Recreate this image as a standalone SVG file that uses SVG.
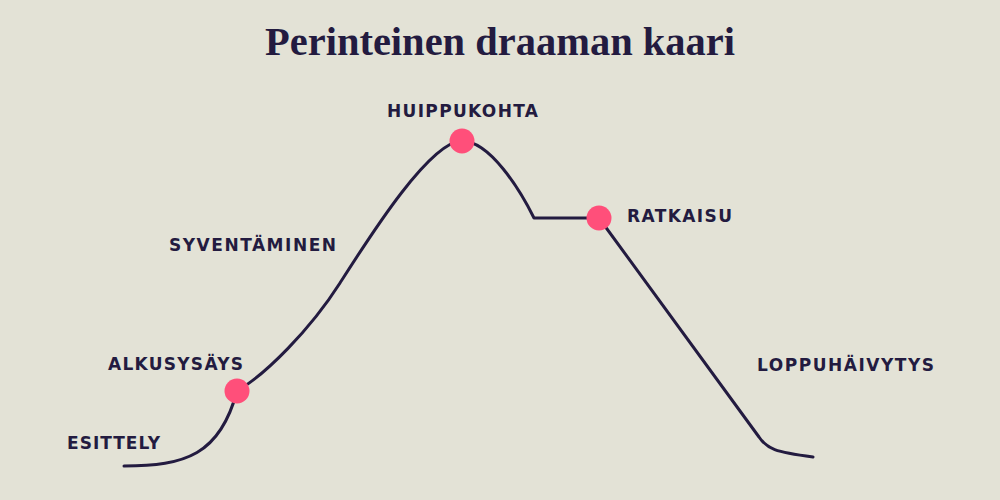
<svg xmlns="http://www.w3.org/2000/svg" width="1000" height="500" viewBox="0 0 1000 500">
<style>
.bg{fill:#e3e2d6}
.title{font-family:"Liberation Serif","DejaVu Serif",serif;font-weight:bold;font-size:40px;fill:#231b40}
.lbl{font-family:"DejaVu Sans","Open Sans",sans-serif;font-weight:bold;font-size:17px;fill:#231b40}
.dot{fill:#ff4f7a}
.arc{fill:none;stroke:#231b40;stroke-width:3;stroke-linecap:round;stroke-linejoin:round}
</style>
<rect class="bg" x="0" y="0" width="1000" height="500"/>
<text class="title" x="500" y="55" text-anchor="middle" textLength="470" lengthAdjust="spacingAndGlyphs">Perinteinen draaman kaari</text>
<g id="connectors">
<path class="arc" d="M124 466 C185 466 220 455 237 391 C265 375 310 330 340 283 C370 236 430 141 462 141 C490 141 520 190 534 218 L599 218 L759 437 C767 449 775 452 813 457"/>
</g>
<g id="esittely"><text class="lbl" x="67" y="449" textLength="93" lengthAdjust="spacing">ESITTELY</text></g>
<g id="alkusysays"><circle class="dot" cx="237" cy="391" r="12.5"/><text class="lbl" x="108" y="370" textLength="135" lengthAdjust="spacing">ALKUSYSÄYS</text></g>
<g id="syventaminen"><text class="lbl" x="169" y="251" textLength="167" lengthAdjust="spacing">SYVENTÄMINEN</text></g>
<g id="huippukohta"><circle class="dot" cx="462" cy="141" r="12.5"/><text class="lbl" x="387" y="117" textLength="151" lengthAdjust="spacing">HUIPPUKOHTA</text></g>
<g id="ratkaisu"><circle class="dot" cx="599" cy="218" r="12.5"/><text class="lbl" x="627" y="222" textLength="105" lengthAdjust="spacing">RATKAISU</text></g>
<g id="loppuhaivytys"><text class="lbl" x="757" y="371" textLength="177" lengthAdjust="spacing">LOPPUHÄIVYTYS</text></g>
</svg>
